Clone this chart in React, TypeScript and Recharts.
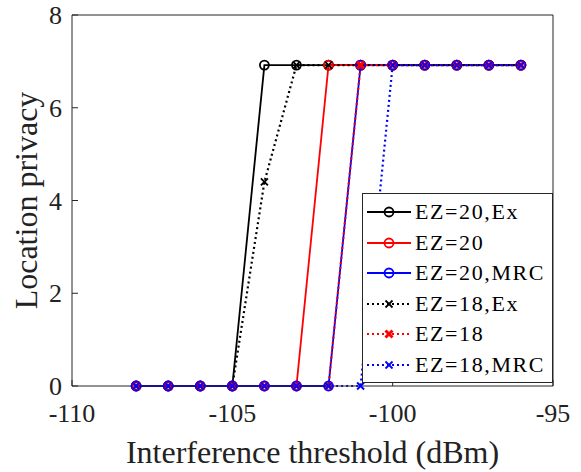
import React from 'react';
import { LineChart, Line, XAxis, YAxis, ReferenceLine } from 'recharts';

// Interference threshold (dBm) on the x axis
const thresholds = [-108, -107, -106, -105, -104, -103, -102, -101, -100, -99, -98, -97, -96];

// Location privacy per scheme
const ez20Ex = [0, 0, 0, 0, 6.92, 6.92, 6.92, 6.92, 6.92, 6.92, 6.92, 6.92, 6.92];
const ez20 = [0, 0, 0, 0, 0, 0, 6.92, 6.92, 6.92, 6.92, 6.92, 6.92, 6.92];
const ez20Mrc = [0, 0, 0, 0, 0, 0, 0, 6.92, 6.92, 6.92, 6.92, 6.92, 6.92];
const ez18Ex = [0, 0, 0, 0, 4.4, 6.92, 6.92, 6.92, 6.92, 6.92, 6.92, 6.92, 6.92];
const ez18 = [0, 0, 0, 0, 0, 0, 0, 6.92, 6.92, 6.92, 6.92, 6.92, 6.92];
const ez18Mrc = [0, 0, 0, 0, 0, 0, 0, 0, 6.92, 6.92, 6.92, 6.92, 6.92];

const xTicks = [-110, -105, -100, -95];
const yTicks = [0, 2, 4, 6, 8];

const FONT = '"Liberation Serif", "Times New Roman", serif';

type Marker = 'circle' | 'x' | 'boldx';

interface SeriesDef {
  key: string;
  name: string;
  color: string;
  dashed: boolean;
  marker: Marker;
}

const series: SeriesDef[] = [
  { key: 'ez20Ex', name: 'EZ=20,Ex', color: '#000000', dashed: false, marker: 'circle' },
  { key: 'ez20', name: 'EZ=20', color: '#ff0000', dashed: false, marker: 'circle' },
  { key: 'ez20Mrc', name: 'EZ=20,MRC', color: '#0000ff', dashed: false, marker: 'circle' },
  { key: 'ez18Ex', name: 'EZ=18,Ex', color: '#000000', dashed: true, marker: 'x' },
  { key: 'ez18', name: 'EZ=18', color: '#ff0000', dashed: true, marker: 'boldx' },
  { key: 'ez18Mrc', name: 'EZ=18,MRC', color: '#0000ff', dashed: true, marker: 'x' },
];

const values: { [key: string]: number[] } = { ez20Ex, ez20, ez20Mrc, ez18Ex, ez18, ez18Mrc };

const data = thresholds.map((t, i) => {
  const row: { [key: string]: number } = { t };
  Object.keys(values).forEach((k) => {
    row[k] = values[k][i];
  });
  return row;
});

function drawMarker(marker: Marker, color: string, cx: number, cy: number, key?: string) {
  if (marker === 'circle') {
    return <circle key={key} cx={cx} cy={cy} r={4.5} fill="none" stroke={color} strokeWidth={1.8} />;
  }
  const s = 3.5;
  const w = marker === 'boldx' ? 3 : 1.8;
  return (
    <g key={key}>
      <line x1={cx - s} y1={cy - s} x2={cx + s} y2={cy + s} stroke={color} strokeWidth={w} />
      <line x1={cx - s} y1={cy + s} x2={cx + s} y2={cy - s} stroke={color} strokeWidth={w} />
    </g>
  );
}

const makeDot = (s: SeriesDef) => (props: any) => {
  const { cx, cy, index } = props;
  if (cx == null || cy == null) return <g key={`${s.key}-${index}`} />;
  return drawMarker(s.marker, s.color, cx, cy, `${s.key}-${index}`);
};

const LegendBox = () => (
  <div
    style={{
      position: 'absolute',
      left: 362,
      top: 193,
      width: 191,
      height: 190,
      border: '1px solid #262626',
      background: '#ffffff',
      fontFamily: FONT,
      fontSize: 22,
      letterSpacing: 1.6,
      color: '#000',
      boxSizing: 'border-box',
      paddingTop: 3,
    }}
  >
    {series.map((s) => (
      <div key={s.key} style={{ display: 'flex', alignItems: 'center', height: 30.5 }}>
        <svg width={46} height={20} style={{ marginLeft: 3, flexShrink: 0 }}>
          <line
            x1={1}
            y1={10}
            x2={45}
            y2={10}
            stroke={s.color}
            strokeWidth={s.dashed ? 2.2 : 1.8}
            strokeDasharray={s.dashed ? '2 3' : undefined}
          />
          {drawMarker(s.marker, s.color, 23, 10)}
        </svg>
        <span style={{ marginLeft: 3, whiteSpace: 'nowrap' }}>{s.name}</span>
      </div>
    ))}
  </div>
);

export default function App() {
  return (
    <div style={{ position: 'absolute', left: 0, top: 0, width: 581, height: 472, background: '#fff' }}>
      <LineChart width={581} height={472} data={data} margin={{ top: 15, right: 28, bottom: 0, left: 0 }}>
        <XAxis
          dataKey="t"
          type="number"
          domain={[-110, -95]}
          ticks={xTicks}
          height={86}
          tickSize={-6}
          tickMargin={24}
          stroke="#262626"
          tick={{ fill: '#222', fontSize: 26, fontFamily: FONT }}
          label={{
            value: 'Interference threshold (dBm)',
            position: 'insideBottom',
            offset: 9,
            fill: '#222',
            fontSize: 32,
            fontFamily: FONT,
          }}
        />
        <YAxis
          type="number"
          domain={[0, 8]}
          ticks={yTicks}
          width={72}
          tickSize={-6}
          tickMargin={16}
          stroke="#262626"
          tick={{ fill: '#222', fontSize: 26, fontFamily: FONT }}
          label={{
            value: 'Location privacy',
            angle: -90,
            position: 'insideLeft',
            offset: 26,
            style: { textAnchor: 'middle' },
            fill: '#222',
            fontSize: 32,
            fontFamily: FONT,
          }}
        />
        <ReferenceLine y={8} stroke="#262626" strokeWidth={1} ifOverflow="visible" />
        <ReferenceLine x={-95} stroke="#262626" strokeWidth={1} ifOverflow="visible" />
        {series.map((s) => (
          <Line
            key={s.key}
            dataKey={s.key}
            name={s.name}
            type="linear"
            stroke={s.color}
            strokeWidth={s.dashed ? 2.2 : 1.8}
            strokeDasharray={s.dashed ? '2 3' : undefined}
            dot={makeDot(s)}
            activeDot={false}
            isAnimationActive={false}
          />
        ))}
      </LineChart>
      <LegendBox />
    </div>
  );
}
